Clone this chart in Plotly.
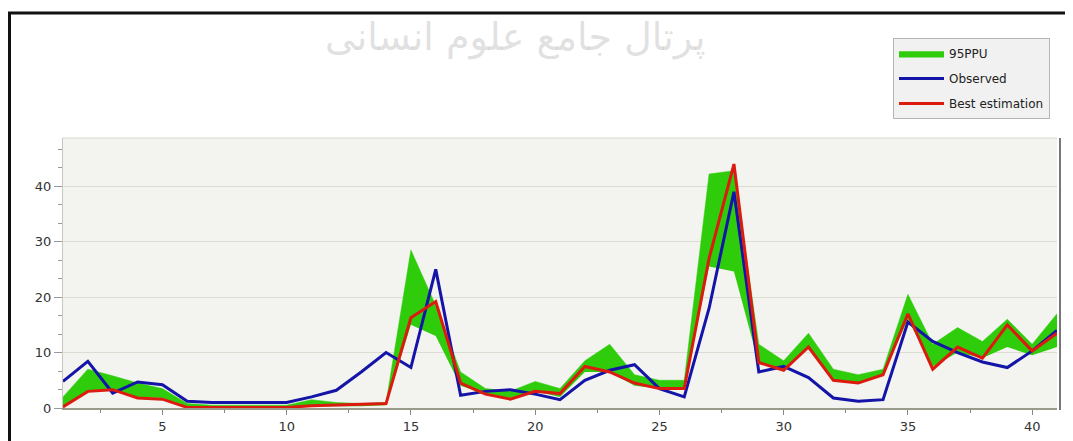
import plotly.graph_objects as go

x = list(range(1, 42))
observed = [4.8, 8.4, 2.7, 4.7, 4.2, 1.2, 1.0, 1.0, 1.0, 1.0, 2.0, 3.2, 6.5, 10.0, 7.3,
            25.0, 2.3, 3.0, 3.3, 2.5, 1.5, 5.0, 6.8, 7.8, 3.5, 2.0, 18.0, 39.0, 6.5, 7.5,
            5.5, 1.8, 1.2, 1.5, 15.5, 12.0, 10.0, 8.3, 7.3, 10.3, 14.0]
best = [0.2, 3.0, 3.3, 1.8, 1.6, 0.1, 0.1, 0.1, 0.1, 0.1, 0.4, 0.5, 0.6, 0.8, 16.3,
        19.2, 4.5, 2.5, 1.6, 3.0, 2.6, 7.5, 6.5, 4.5, 3.5, 3.5, 27.0, 44.0, 8.2, 6.8,
        11.0, 5.0, 4.5, 6.0, 17.0, 7.0, 11.0, 9.0, 15.0, 10.3, 13.5]
ppu_upper = [2.0, 7.0, 5.8, 4.5, 3.5, 0.8, 0.5, 0.5, 0.5, 0.5, 1.5, 1.0, 0.8, 1.0, 28.5,
             18.5, 6.5, 3.5, 3.0, 4.8, 3.5, 8.5, 11.5, 6.0, 5.0, 5.0, 42.2, 42.8, 11.5, 8.5,
             13.5, 7.0, 6.0, 7.0, 20.5, 11.5, 14.5, 12.0, 16.0, 11.5, 17.0]
ppu_lower = [0.0, 3.0, 3.3, 2.0, 1.8, 0.0, 0.0, 0.0, 0.0, 0.0, 0.3, 0.3, 0.3, 0.5, 15.0,
             13.0, 4.0, 2.5, 1.8, 3.0, 2.0, 6.5, 6.5, 4.0, 3.5, 3.5, 25.5, 24.6, 8.0, 7.0,
             11.0, 5.0, 4.5, 6.0, 16.0, 7.5, 10.0, 9.0, 11.0, 9.5, 11.0]
x_ticks = [5, 10, 15, 20, 25, 30, 35, 40]
y_ticks = [0, 10, 20, 30, 40]

GREEN = "#2fcc0c"
BLUE = "#1414a8"
RED = "#dd1a10"

fig = go.Figure()
fig.add_trace(go.Scatter(x=x, y=ppu_lower, mode="lines", line=dict(width=0, color=GREEN),
                         showlegend=False, hoverinfo="skip", legendgroup="a"))
fig.add_trace(go.Scatter(x=x, y=ppu_upper, mode="lines", fill="tonexty", fillcolor=GREEN,
                         line=dict(width=0.5, color=GREEN), name="95PPU", legendgroup="a"))
fig.add_trace(go.Scatter(x=x, y=observed, mode="lines", line=dict(width=3, color=BLUE),
                         name="Observed", legendgroup="b"))
fig.add_trace(go.Scatter(x=x, y=best, mode="lines", line=dict(width=3, color=RED),
                         name="Best estimation", legendgroup="c"))

# page body has an 8px margin; plot area on screen: x 63..1057, y 138..408
L, R, T, B = 55, 24, 130, 41
PW = 1073 - L - R
PH = 441 - T - B

def px(sx):
    return (sx - 8 - L) / PW

def py(sy):
    return (441 - B - (sy - 8)) / PH

fig.update_layout(
    width=1073, height=441,
    margin=dict(l=L, r=R, t=T, b=B, autoexpand=False),
    paper_bgcolor="white",
    plot_bgcolor="#f3f3f0",
    font=dict(family="DejaVu Sans, Verdana, sans-serif", size=12, color="#333333"),
    legend=dict(x=px(893), y=py(38), xanchor="left", yanchor="top",
                bgcolor="#f1f1f1", bordercolor="#b5b5b5", borderwidth=1,
                font=dict(size=12, color="#222222"), tracegroupgap=6,
                traceorder="grouped", itemwidth=45),
    showlegend=True,
)
fig.update_xaxes(range=[1, 41], tickvals=x_ticks, ticks="outside", ticklen=5,
                 tickcolor="#888888", showgrid=False, zeroline=False,
                 showline=True, linecolor="#9a9a8a", linewidth=2,
                 minor=dict(dtick=2.5, tick0=0, ticks="outside", ticklen=3, tickcolor="#888888"),
                 tickfont=dict(size=13, color="#333333"))
fig.update_yaxes(range=[0, 48.7], tickvals=y_ticks, ticks="outside", ticklen=8,
                 tickcolor="#999999", showgrid=True, gridcolor="#dcdcd2", gridwidth=1,
                 zeroline=False, showline=True, linecolor="#c8c8c0", linewidth=1,
                 minor=dict(dtick=10 / 3, tick0=0, ticks="outside", ticklen=4, tickcolor="#999999"),
                 tickfont=dict(size=13, color="#333333"))

# outer frame lines
fig.add_shape(type="line", xref="paper", yref="paper", x0=px(6.5), x1=px(1080),
              y0=py(13), y1=py(13), line=dict(color="#111111", width=3))
fig.add_shape(type="line", xref="paper", yref="paper", x0=px(9.5), x1=px(9.5),
              y0=py(460), y1=py(13), line=dict(color="#111111", width=3))
# right panel edge
fig.add_shape(type="line", xref="paper", yref="paper", x0=px(1060), x1=px(1060),
              y0=py(410), y1=py(138), line=dict(color="#777777", width=2))
fig.add_shape(type="line", xref="paper", yref="paper", x0=0, x1=1.0,
              y0=1.0, y1=1.0, line=dict(color="#d8d8d0", width=1))

# watermark
fig.add_annotation(text="پرتال جامع علوم انسانی", xref="paper", yref="paper",
                   x=px(515), y=py(38), xanchor="center", yanchor="middle", showarrow=False,
                   font=dict(size=38, color="rgba(150,150,150,0.3)",
                             family="DejaVu Sans"))

fig.write_html("out.html")
